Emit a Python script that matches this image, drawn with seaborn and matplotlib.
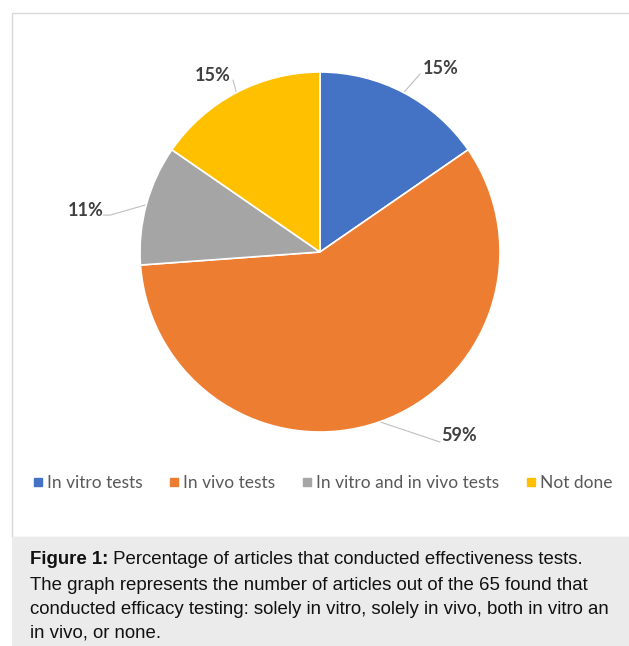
import numpy as np
import matplotlib
matplotlib.use("Agg")
import matplotlib.pyplot as plt
from matplotlib.patches import Rectangle
from matplotlib.lines import Line2D
import seaborn as sns

# ---- data ----
categories = ["In vitro tests", "In vivo tests", "In vitro and in vivo tests", "Not done"]
article_counts = [10, 38, 7, 10]          # out of 65 articles
pct_labels = ["15%", "59%", "11%", "15%"]
colors = ["#4472C4", "#ED7D31", "#A5A5A5", "#FFC000"]
caption_bold = "Figure 1:"
caption_lines = [
    " Percentage of articles that conducted effectiveness tests.",
    "The graph represents the number of articles out of the 65 found that",
    "conducted efficacy testing: solely in vitro, solely in vivo, both in vitro an",
    "in vivo, or none.",
]

sns.set_theme(style="white")
plt.rcParams["font.family"] = ["Lato", "DejaVu Sans"]

W, H = 629, 646
fig = plt.figure(figsize=(W / 100, H / 100), dpi=100)
fig.patch.set_facecolor("white")

def fx(px):
    return px / W

def fy(py):
    return 1 - py / H

# chart frame and caption background
fig.patches.append(Rectangle((fx(12), fy(537)), 1.2, fy(13) - fy(537), transform=fig.transFigure,
                             facecolor="white", edgecolor="#d9d9d9", linewidth=1.0, zorder=-10))
fig.patches.append(Rectangle((fx(12), 0), 1.2, fy(537), transform=fig.transFigure,
                             facecolor="#ebebeb", edgecolor="none", zorder=-9))

# pie axes (center 320,252 radius 180 px)
ax = fig.add_axes([fx(140), fy(432), 360 / W, 360 / H])
wedges, _ = ax.pie(article_counts, colors=colors, startangle=90, counterclock=False, radius=1,
                   wedgeprops=dict(edgecolor="white", linewidth=1.2))
ax.set_xlim(-1, 1)
ax.set_ylim(-1, 1)
ax.set_aspect("equal")
ax.axis("off")

# label placement (data coords: radius=1)
label_pos = [(0.672, 1.022), (0.772, -1.017), (-1.30, 0.233), (-0.594, 0.983)]
elbow = [[(0.556, 0.989)], [(0.667, -1.056)], [(-1.205, 0.205), (-1.166, 0.205)], [(-0.483, 0.955)]]
for w, lab, pos, el in zip(wedges, pct_labels, label_pos, elbow):
    mid = np.deg2rad((w.theta1 + w.theta2) / 2)
    ex, ey = np.cos(mid), np.sin(mid)
    pts = el + [(ex, ey)]
    xs = [p[0] for p in pts]
    ys = [p[1] for p in pts]
    ax.plot(xs, ys, color="#bfbfbf", lw=0.8, clip_on=False, zorder=0)
    ax.text(pos[0], pos[1], lab, ha="center", va="center", fontsize=13, fontweight="bold",
            color="#404040", clip_on=False)

# legend
handles = [Line2D([0], [0], marker="s", linestyle="none", markersize=5.2, markerfacecolor=c,
                  markeredgecolor=c) for c in colors]
fig.legend(handles, categories, loc="center", bbox_to_anchor=(fx(323), fy(483)), ncol=4,
           frameon=False, fontsize=12.5, labelcolor="#595959", handletextpad=0.3,
           columnspacing=1.55, handlelength=0.5)

# caption
cap_font = ["Liberation Sans", "DejaVu Sans"]
line_y = [560, 586, 609, 633]
fs_cap = 13.45
t0 = fig.text(fx(30), fy(line_y[0]), caption_bold, fontsize=fs_cap, fontweight="bold",
              family=cap_font, va="center", ha="left", color="#111111")
fig.canvas.draw()
bb = t0.get_window_extent()
fig.text(bb.x1 / W, fy(line_y[0]), caption_lines[0], fontsize=fs_cap, family=cap_font,
         va="center", ha="left", color="#111111")
for ln, y in zip(caption_lines[1:], line_y[1:]):
    fig.text(fx(30), fy(y), ln, fontsize=fs_cap, family=cap_font, va="center", ha="left",
             color="#111111")

fig.savefig("out.png", dpi=100, facecolor="white")
